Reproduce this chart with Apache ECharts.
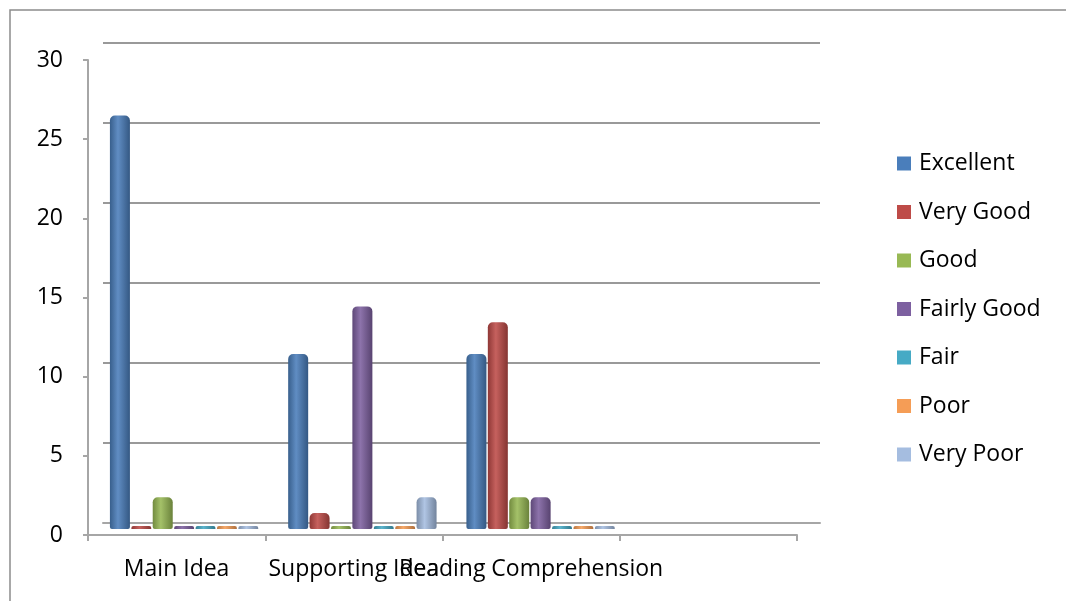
<!DOCTYPE html>
<html><head><meta charset="utf-8">
<script src="https://cdn.jsdelivr.net/npm/echarts@6/dist/echarts.min.js"></script>
<style>html,body{margin:0;padding:0;background:#fff}#c{width:1066px;height:601px}</style>
</head><body><div id="c"></div>
<script>
const categories = ['Main Idea', 'Supporting Idea', 'Reading Comprehension', ''];
const yTicks = [0, 5, 10, 15, 20, 25, 30];
const seriesNames = ['Excellent', 'Very Good', 'Good', 'Fairly Good', 'Fair', 'Poor', 'Very Poor'];
const excellent  = [26, 11, 11, null];
const veryGood   = [0, 1, 13, null];
const good       = [2, 0, 2, null];
const fairlyGood = [0, 14, 2, null];
const fair       = [0, 0, 0, null];
const poor       = [0, 0, 0, null];
const veryPoor   = [0, 2, 0, null];
const seriesData = [excellent, veryGood, good, fairlyGood, fair, poor, veryPoor];
const colors = ['#4A7EBB', '#BE4B48', '#98B954', '#7D60A0', '#46AAC5', '#F59D56', '#A5BDE0'];

function shade(hex, f) {
  const n = parseInt(hex.slice(1), 16);
  let r = (n >> 16) & 255, g = (n >> 8) & 255, b = n & 255;
  const m = v => Math.max(0, Math.min(255, Math.round(f < 0 ? v * (1 + f) : v + (255 - v) * f)));
  return 'rgb(' + m(r) + ',' + m(g) + ',' + m(b) + ')';
}

const chart = echarts.init(document.getElementById('c'), null, {renderer: 'canvas'});
const font = '"Open Sans", "Liberation Sans", sans-serif';
const gray = '#A6A6A6';

const option = {
  backgroundColor: '#fff',
  animation: false,
  textStyle: {fontFamily: font},
  graphic: [{type: 'rect', shape: {x: 10, y: 10, width: 1100, height: 700}, style: {fill: 'none', stroke: '#8C8C8C', lineWidth: 1.5}, silent: true}],
  legend: {
    orient: 'vertical', left: 897, top: 152, itemWidth: 14, itemHeight: 14, itemGap: 25.5,
    icon: 'rect', padding: 0,
    textStyle: {fontSize: 23, color: '#000', fontFamily: font, lineHeight: 23, padding: [0, 0, 0, 3]},
    data: seriesNames.map((n, i) => ({name: n, itemStyle: {color: colors[i]}}))
  },
  grid: [
    {left: 88, right: 269, top: 60, bottom: 66},   // front plane (labels)
    {left: 103, right: 246, top: 43, bottom: 78},  // back wall (grid lines)
    {left: 95, right: 258, top: 52, bottom: 72}    // bars
  ],
  xAxis: [
    {gridIndex: 0, type: 'category', data: categories, boundaryGap: true,
     axisLine: {lineStyle: {color: gray, width: 2}},
     axisTick: {show: true, length: 6, interval: 0, lineStyle: {color: gray, width: 2}},
     axisLabel: {interval: 0, color: '#000', fontSize: 23, margin: 23, fontFamily: font}},
    {gridIndex: 1, type: 'category', data: categories, axisLine: {lineStyle: {color: gray, width: 2}}, axisTick: {show: false}, axisLabel: {show: false}},
    {gridIndex: 2, type: 'category', data: categories, show: false}
  ],
  yAxis: [
    {gridIndex: 0, type: 'value', min: 0, max: 30, interval: 5,
     axisLine: {show: true, lineStyle: {color: gray, width: 2}},
     axisTick: {show: true, length: 5, lineStyle: {color: gray, width: 2}},
     splitLine: {show: false},
     axisLabel: {color: '#000', fontSize: 23, margin: 25, fontFamily: font,
       formatter: v => yTicks.indexOf(v) >= 0 ? String(v) : ''}},
    {gridIndex: 1, type: 'value', min: 0, max: 30, interval: 5,
     axisLine: {show: false}, axisTick: {show: false}, axisLabel: {show: false},
     splitLine: {show: true, lineStyle: {color: '#999', width: 2}}},
    {gridIndex: 2, type: 'value', min: 0, max: 30, interval: 5, show: false, splitLine: {show: false}}
  ],
  series: seriesNames.map((name, i) => ({
    name: name, type: 'bar', xAxisIndex: 2, yAxisIndex: 2,
    data: seriesData[i],
    barWidth: 20, barGap: '7%', barCategoryGap: '16%', barMinHeight: 3,
    itemStyle: {
      borderRadius: [5, 5, 2, 2],
      color: new echarts.graphic.LinearGradient(0, 0, 1, 0, [
        {offset: 0, color: shade(colors[i], -0.25)},
        {offset: 0.4, color: shade(colors[i], 0.12)},
        {offset: 1, color: shade(colors[i], -0.3)}
      ])
    },
    emphasis: {disabled: true}
  }))
};
chart.setOption(option);
</script>
</body></html>
